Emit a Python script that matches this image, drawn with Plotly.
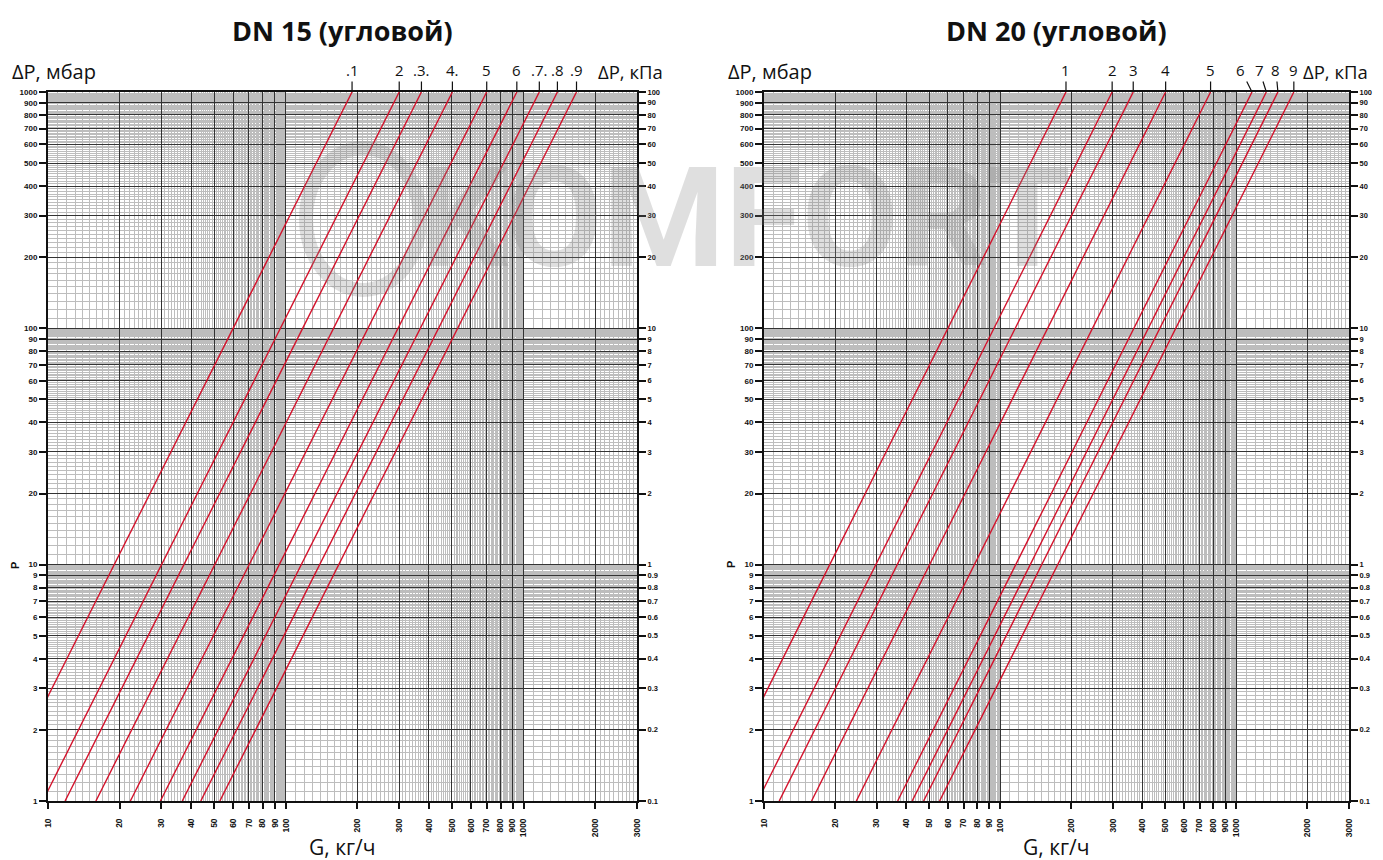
import math
import plotly.graph_objects as go

# ---------------- data ----------------
dp_points = [1, 1000]                      # ΔP, mbar at the two line ends

dn15_labels = [".1", "2", ".3.", "4.", "5", "6", ".7.", ".8", ".9"]
dn15_g_at_1 = [6.0, 9.5, 11.8, 15.9, 22.2, 29.7, 36.7, 43.9, 52.8]        # G, kg/h at 1 mbar
dn15_g_at_1000 = [190, 300, 372, 502, 700, 937, 1165, 1388, 1670]        # G, kg/h at 1000 mbar

dn20_labels = ["1", "2", "3", "4", "5", "6", "7", "8", "9"]
dn20_g_at_1 = [6.0, 9.4, 11.6, 15.9, 24.6, 36.8, 42.4, 47.4, 55.4]
dn20_g_at_1000 = [190, 298, 366, 502, 778, 1165, 1340, 1500, 1752]

x_tick_vals = [10, 20, 30, 40, 50, 60, 70, 80, 90, 100, 200, 300, 400, 500,
               600, 700, 800, 900, 1000, 2000, 3000]
x_tick_text = [str(v) for v in x_tick_vals]
y_tick_vals = [1, 2, 3, 4, 5, 6, 7, 8, 9, 10, 20, 30, 40, 50, 60, 70, 80, 90,
               100, 200, 300, 400, 500, 600, 700, 800, 900, 1000]
y_tick_text = [str(v) for v in y_tick_vals]
kpa_tick_text = ["0.1", "0.2", "0.3", "0.4", "0.5", "0.6", "0.7", "0.8", "0.9",
                 "1", "2", "3", "4", "5", "6", "7", "8", "9",
                 "10", "20", "30", "40", "50", "60", "70", "80", "90", "100"]

titles = ["DN 15 (угловой)", "DN 20 (угловой)"]

# ---------------- styling ----------------
OFF = 8                    # page body margin
W, H = 1383 - OFF, 860 - OFF
RED = "#d3122b"
MAJOR = "#333333"
MINOR = "#bdbdbd"
TICKFONT = dict(family="Liberation Sans, Arial", size=8, color="#111", weight="bold")
WM = "rgba(130,130,130,0.26)"


def px_x(p):
    return (p - OFF) / W


def px_y(p):
    return 1 - (p - OFF) / H


# minor grid positions
x_minor = []
for dec, stop, step in [(10, 100, 1), (100, 1000, 10), (1000, 3000, 100)]:
    v = dec
    while v < stop - 1e-9:
        v += step
        if round(v, 6) not in x_tick_vals:
            x_minor.append(round(v, 6))
y_minor = []
for dec, stop, step in [(1, 10, 0.1), (10, 100, 1), (100, 1000, 10)]:
    v = dec
    while v < stop - 1e-9:
        v += step
        vv = round(v, 6)
        if vv not in y_tick_vals:
            y_minor.append(vv)

fig = go.Figure()

panels = [
    dict(xa="x", ya="y", ya2="y2", labels=dn15_labels, g1=dn15_g_at_1, g1000=dn15_g_at_1000,
         dom=[px_x(48), px_x(637)], leader=[0] * 9, kpa_right=28),
    dict(xa="x2", ya="y3", ya2="y4", labels=dn20_labels, g1=dn20_g_at_1, g1000=dn20_g_at_1000,
         dom=[px_x(764), px_x(1349)], leader=[0, 0, 0, 0, 0, -11, -7, -2, 0], kpa_right=21),
]

ydom = [px_y(801), px_y(92)]

annotations = []
for i, p in enumerate(panels):
    for k, (lab, a, b) in enumerate(zip(p["labels"], p["g1"], p["g1000"])):
        fig.add_trace(go.Scatter(x=[a, b], y=dp_points, mode="lines",
                                 line=dict(color=RED, width=1.4),
                                 xaxis=p["xa"], yaxis=p["ya"], showlegend=False,
                                 hoverinfo="skip"))
        annotations.append(dict(
            x=math.log10(b), y=3, xref=p["xa"], yref=p["ya"],
            text=lab, showarrow=True, arrowhead=0, arrowwidth=1.2, arrowcolor="#111",
            ax=p["leader"][k], ay=-22, standoff=0, startstandoff=0,
            xanchor="center", yanchor="middle",
            font=dict(family="Open Sans, Arial", size=15, color="#111")))
    # invisible trace for the kPa axis
    fig.add_trace(go.Scatter(x=[10], y=[0.1], mode="markers", marker=dict(opacity=0),
                             xaxis=p["xa"], yaxis=p["ya2"], showlegend=False,
                             hoverinfo="skip"))

    xname = "xaxis" if i == 0 else "xaxis2"
    yname = "yaxis" if i == 0 else "yaxis3"
    y2name = "yaxis2" if i == 0 else "yaxis4"
    fig.layout[xname] = dict(
        type="log", range=[1, math.log10(3000)], domain=p["dom"], anchor=p["ya"],
        tickmode="array", tickvals=x_tick_vals, ticktext=x_tick_text, tickangle=-90,
        tickfont=dict(TICKFONT, size=8.5), ticks="outside", ticklen=6, tickcolor="#111",
        tickwidth=1.5, ticklabelstandoff=6,
        showgrid=True, gridcolor=MAJOR, gridwidth=1.2,
        minor=dict(tickmode="array", tickvals=x_minor, showgrid=True,
                   gridcolor=MINOR, gridwidth=1, ticks=""),
        showline=True, linecolor="#111", linewidth=2, mirror=True,
        zeroline=False, automargin=False, fixedrange=True)
    fig.layout[yname] = dict(
        type="log", range=[0, 3], domain=ydom, anchor=p["xa"],
        tickmode="array", tickvals=y_tick_vals, ticktext=y_tick_text,
        tickfont=TICKFONT, ticks="outside", ticklen=7, tickcolor="#111", tickwidth=1.5,
        showgrid=True, gridcolor=MAJOR, gridwidth=1.2,
        minor=dict(tickmode="array", tickvals=y_minor, showgrid=True,
                   gridcolor=MINOR, gridwidth=1, ticks=""),
        showline=True, linecolor="#111", linewidth=2,
        zeroline=False, automargin=False, fixedrange=True)
    fig.layout[y2name] = dict(
        type="log", range=[-1, 2], overlaying=p["ya"], side="right", anchor=p["xa"],
        tickmode="array", tickvals=[v / 10 for v in y_tick_vals], ticktext=kpa_tick_text,
        tickfont=dict(TICKFONT, size=7.5), ticks="outside", ticklen=7, tickcolor="#111",
        tickwidth=1.5, showgrid=False, showline=True, linecolor="#111", linewidth=2,
        zeroline=False, automargin=False, fixedrange=True)

    cx = (p["dom"][0] + p["dom"][1]) / 2
    annotations.append(dict(x=cx, y=px_y(30), xref="paper", yref="paper", text=titles[i],
                            showarrow=False, xanchor="center", yanchor="middle",
                            font=dict(family="Open Sans, Arial", size=27, color="#111",
                                      weight="bold")))
    annotations.append(dict(x=cx, y=px_y(847), xref="paper", yref="paper", text="G, кг/ч",
                            showarrow=False, xanchor="center", yanchor="middle",
                            font=dict(family="Open Sans, Arial", size=21, color="#111")))
    annotations.append(dict(x=p["dom"][0] - 38 / W, y=px_y(71), xref="paper", yref="paper",
                            text="ΔP, мбар", showarrow=False, xanchor="left",
                            yanchor="middle",
                            font=dict(family="Open Sans, Arial", size=20, color="#111")))
    annotations.append(dict(x=p["dom"][1] + p["kpa_right"] / W, y=px_y(71), xref="paper",
                            yref="paper", text="ΔP, кПа", showarrow=False, xanchor="right",
                            yanchor="middle",
                            font=dict(family="Open Sans, Arial", size=18.5, color="#111")))
    annotations.append(dict(x=p["dom"][0] - 33 / W, y=px_y(565), xref="paper", yref="paper",
                            text="P", showarrow=False, textangle=-90,
                            xanchor="center", yanchor="middle",
                            font=dict(family="Liberation Sans, Arial", size=11, color="#111",
                                      weight="bold")))

# watermark
annotations.append(dict(x=px_x(745), y=px_y(218), xref="paper", yref="paper", text="KOMFORT",
                        showarrow=False, xanchor="center", yanchor="middle",
                        font=dict(family="Roboto, Arial", size=140, color=WM, weight="bold")))
shapes = [dict(type="circle", xref="paper", yref="paper",
               x0=px_x(306), x1=px_x(420), y0=px_y(290), y1=px_y(148),
               line=dict(color=WM, width=14))]

fig.update_layout(width=W, height=H, margin=dict(l=0, r=0, t=0, b=0),
                  paper_bgcolor="white", plot_bgcolor="white",
                  annotations=annotations, shapes=shapes, showlegend=False)

fig.write_html("out.html")
